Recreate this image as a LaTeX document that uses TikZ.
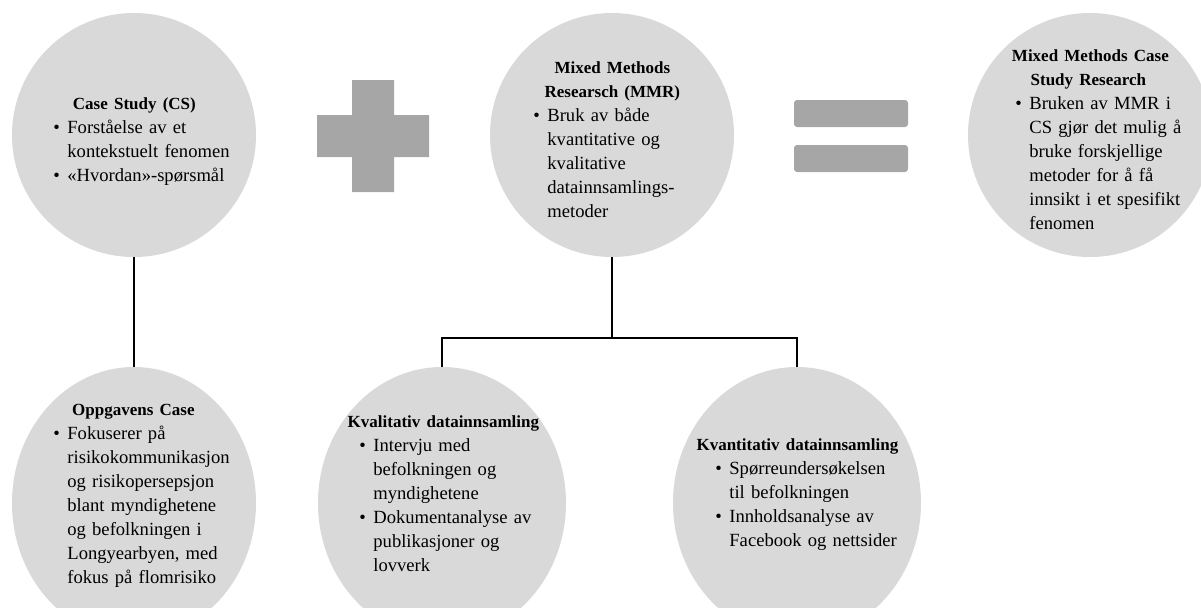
\documentclass[tikz,border=0pt]{standalone}
\usepackage{fontspec}
\usetikzlibrary{shapes.geometric}
\setmainfont{Liberation Serif}
\definecolor{sirkel}{HTML}{D9D9D9}
\definecolor{tegn}{HTML}{A6A6A6}
\hyphenpenalty=10000
\newcommand\topp[2]{\par\noindent\hspace*{#1}%
  \makebox[0pt]{\fontsize{8.5}{12}\selectfont\bfseries #2}\par}
\newcommand\punkt[1]{\par\hangindent=7pt\hangafter=1\noindent
  \makebox[7pt][l]{\textbullet}#1\par}

\begin{document}
\begin{tikzpicture}[x = .5pt, y = -.5pt,
    kule/.style = {circle, fill = sirkel, minimum size = 122pt, inner sep = 0pt},
    oval/.style = {ellipse, fill = sirkel, minimum width = 124pt,
                   minimum height = 136pt, inner sep = 0pt},
    tekst/.style = {anchor = west, align = left, inner sep = 0pt,
                    font = \fontsize{9.3}{12}\selectfont},
    strek/.style = {line width = 1.3pt}]
  \useasboundingbox (0,0) rectangle (1201,607);
  % pluss og er-lik
  \fill [tegn] (317,115) rectangle (429,157) (352,80) rectangle (394,192);
  \foreach \y in {100,145}
    \fill [tegn, rounded corners = 1.5pt] (794,\y) rectangle (908,\y+27);
  % sirkler
  \node [kule] (cs) at (134,135) {};
  \node [kule] (mmr) at (612,135) {};
  \node [kule] (mmcsr) at (1090,135) {};
  \node [oval, minimum width = 122pt] (oppg) at (134,503) {};
  \node [oval] (kval) at (442,503) {};
  \node [oval] (kvant) at (797,503) {};
  % streker
  \coordinate (gren) at (612,338);
  \draw [strek] (cs) -- (oppg);
  \draw [strek] (mmr) -- (gren);
  \draw [strek] (kval) |- (gren) -| (kvant);
  % tekst
  \node [tekst, text width = 92pt] (cs-tekst) at (53,135)
    {\topp{40.5pt}{Case Study (CS)}
     \punkt{Forståelse av et\newline kontekstuelt fenomen}
     \punkt{«Hvordan»-spørsmål}};
  \node [tekst, text width = 74pt] (mmr-tekst) at (533,134)
    {\topp{39.5pt}{Mixed Methods}
     \topp{39.5pt}{Researsch (MMR)}
     \punkt{Bruk av både\newline kvantitative og\newline kvalitative\newline
            datainnsamlings-\newline metoder}};
  \node [tekst, text width = 92pt] (mmcsr-tekst) at (1015,134)
    {\topp{37.5pt}{Mixed Methods Case}
     \topp{36.5pt}{Study Research}
     \punkt{Bruken av MMR i\newline CS gjør det mulig å\newline
            bruke forskjellige\newline metoder for å få\newline
            innsikt i et spesifikt\newline fenomen}};
  \node [tekst, text width = 96pt] (oppg-tekst) at (53,489)
    {\topp{40pt}{Oppgavens Case}
     \punkt{Fokuserer på\newline risikokommunikasjon\newline
            og risikopersepsjon\newline blant myndighetene\newline
            og befolkningen i\newline Longyearbyen, med\newline
            fokus på flomrisiko}};
  \node [tekst, text width = 90pt] (kval-tekst) at (359,488)
    {\topp{42pt}{Kvalitativ datainnsamling}
     \punkt{Intervju med\newline befolkningen og\newline myndighetene}
     \punkt{Dokumentanalyse av\newline publikasjoner og\newline lovverk}};
  \node [tekst, text width = 93pt] (kvant-tekst) at (715,488)
    {\topp{41pt}{Kvantitativ datainnsamling}
     \punkt{Spørreundersøkelsen\newline til befolkningen}
     \punkt{Innholdsanalyse av\newline Facebook og nettsider}};
\end{tikzpicture}
\end{document}
